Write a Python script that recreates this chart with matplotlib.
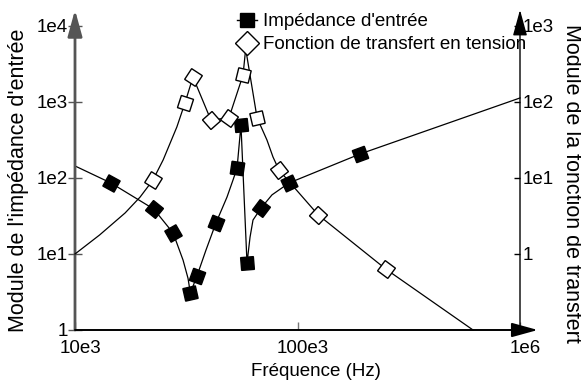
import numpy as np
import matplotlib
matplotlib.use("Agg")
import matplotlib.pyplot as plt
from matplotlib.lines import Line2D
from matplotlib.ticker import NullLocator
from matplotlib.transforms import ScaledTranslation

plt.rcParams["font.family"] = ["Liberation Sans", "DejaVu Sans"]

# input impedance (left axis)
imp_f = [10e3, 14.5e3, 22.6e3, 27.6e3, 30.6e3, 32.2e3, 33e3, 35.3e3, 38.8e3, 43e3,
         48.2e3, 51.3e3, 53.5e3, 55.7e3, 59.3e3, 61.2e3, 63.1e3, 68.5e3, 76.8e3, 91.6e3,
         191e3, 1e6]
imp_z = [144, 86, 39, 18.9, 8.3, 4.8, 3.07, 5.1, 11.3, 25.6,
         56, 94, 135, 500, 7.6, 16.7, 28, 40, 60, 86,
         207, 1130]
imp_marks = [1, 2, 3, 6, 7, 9, 12, 13, 14, 17, 19, 20]

# voltage transfer function (right axis)
tf_f = [10e3, 12.9e3, 16.8e3, 19.6e3, 22.4e3, 24.9e3, 28.7e3, 31.2e3, 33.9e3, 40.8e3,
        49.2e3, 56.9e3, 58.5e3, 65.8e3, 72.9e3, 77.6e3, 82.6e3, 124e3, 250e3, 615e3]
tf_h = [1.0, 1.78, 3.47, 5.6, 9.4, 17.3, 47, 97, 213, 58,
        62, 226, 500, 62, 31.6, 18.9, 12.7, 3.26, 0.63, 0.1]
tf_marks = [4, 7, 8, 9, 10, 11, 13, 16, 17, 18]

x_ticks = [1e4, 1e5, 1e6]
x_labels = ["10e3", "100e3", "1e6"]
left_ticks = [1, 10, 100, 1e3, 1e4]
left_labels = ["1", "1e1", "1e2", "1e3", "1e4"]
right_ticks = [1, 10, 100, 1e3]
right_labels = ["1", "1e1", "1e2", "1e3"]

FS = 13.5
W, H = 581, 385
fig = plt.figure(figsize=(W / 100, H / 100), dpi=100)
ax = fig.add_axes([75 / W, 55 / H, 445 / W, 304 / H])
ax2 = ax.twinx()

for a in (ax, ax2):
    a.set_xscale("log")
    a.set_yscale("log")
    a.set_xlim(1e4, 1e6)
    for s in a.spines.values():
        s.set_visible(False)
    a.patch.set_visible(False)
ax.set_ylim(1, 1e4)
ax2.set_ylim(0.1, 1e3)

ax.xaxis.set_minor_locator(NullLocator())
ax.yaxis.set_minor_locator(NullLocator())
ax2.yaxis.set_minor_locator(NullLocator())
ax.set_xticks(x_ticks, labels=x_labels, fontsize=FS)
ax.set_yticks(left_ticks, labels=left_labels, fontsize=FS)
ax2.set_yticks(right_ticks, labels=right_labels, fontsize=FS)
ax.tick_params(axis="x", direction="in", length=6, width=1, color="#777777", pad=7)
ax.tick_params(axis="y", direction="inout", length=10, width=1, color="#555555", pad=0)
ax2.tick_params(axis="y", direction="in", length=4, width=1, pad=2)

# x tick labels sit a little right of their ticks in the original
shift = ScaledTranslation(5 / 100, 0, fig.dpi_scale_trans)
for lbl in ax.get_xticklabels():
    lbl.set_transform(lbl.get_transform() + shift)

# axes drawn as arrows
arrow = dict(arrowstyle="-|>,head_length=0.8,head_width=0.22", mutation_scale=20,
             shrinkA=0, shrinkB=0)
ax.annotate("", xy=(0, 1.053), xytext=(0, 0), xycoords="axes fraction",
            arrowprops=dict(arrow, color="#555555", lw=2), annotation_clip=False)
ax.annotate("", xy=(1.04, 0), xytext=(0, 0), xycoords="axes fraction",
            arrowprops=dict(arrow, color="black", lw=1.4), annotation_clip=False)
ax.annotate("", xy=(1, 1.053), xytext=(1, 0), xycoords="axes fraction",
            arrowprops=dict(arrow, color="black", lw=1), annotation_clip=False)

ax.plot(imp_f, imp_z, color="black", lw=0.9, clip_on=False)
ax2.plot(tf_f, tf_h, color="black", lw=0.9, clip_on=False)


def marker_angles(a, xs, ys, idx):
    pts = a.transData.transform(np.column_stack([xs, ys]))
    out = []
    for i in idx:
        d = pts[min(i + 1, len(xs) - 1)] - pts[max(i - 1, 0)]
        out.append(45 + np.degrees(np.arctan2(d[1], d[0])))
    return out


for i, ang in zip(imp_marks, marker_angles(ax, imp_f, imp_z, imp_marks)):
    ax.plot(imp_f[i], imp_z[i], ls="none", marker=(4, 0, ang), ms=13,
            mfc="black", mec="black", zorder=5)
for i, ang in zip(tf_marks, marker_angles(ax2, tf_f, tf_h, tf_marks)):
    ax2.plot(tf_f[i], tf_h[i], ls="none", marker=(4, 0, ang), ms=13,
             mfc="white", mec="black", mew=1, zorder=4)

handles = [
    Line2D([], [], color="black", lw=1, marker="s", ms=10, mfc="black"),
    Line2D([], [], color="none", marker="D", ms=12, mfc="white", mec="black", mew=1),
]
fig.legend(handles, ["Impédance d'entrée", "Fonction de transfert en tension"],
           loc="upper left", bbox_to_anchor=(237 / W, 1 - 13 / H), frameon=False,
           fontsize=FS, handlelength=1.05, handletextpad=0.32, labelspacing=0.32,
           borderpad=0, borderaxespad=0)

fig.text(19 / W, 1 - 180 / H, "Module de l'impédance d'entrée", rotation=90,
         ha="center", va="center", fontsize=15.5)
fig.text(571 / W, 1 - 183 / H, "Module de la fonction de transfert", rotation=-90,
         ha="center", va="center", fontsize=15.5)
fig.text(316 / W, 1 - 372 / H, "Fréquence (Hz)", ha="center", va="center", fontsize=FS)

fig.savefig("out.png", dpi=100)
